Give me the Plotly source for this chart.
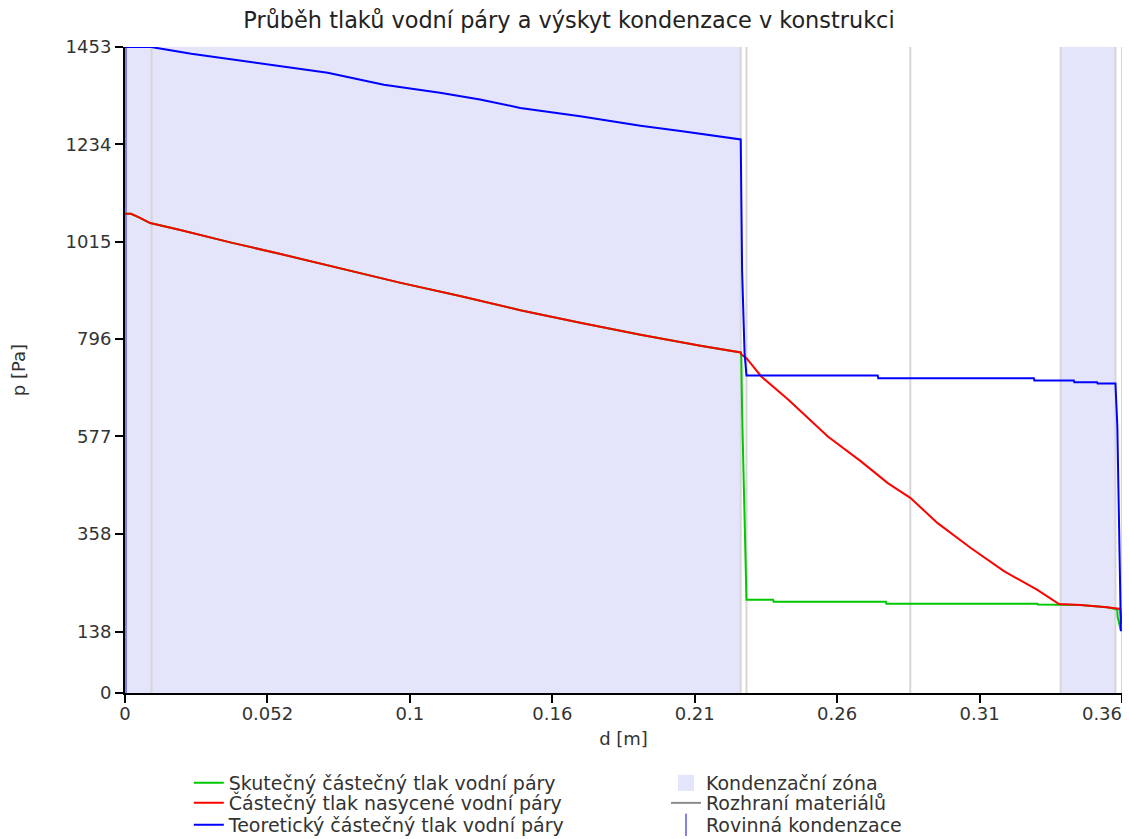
import plotly.graph_objects as go

# ---------------- data ----------------
TITLE = "Průběh tlaků vodní páry a výskyt kondenzace v konstrukci"
X_TITLE = "d [m]"
Y_TITLE = "p [Pa]"

X_TICK_VALS = [0, 0.052, 0.104, 0.156, 0.208, 0.26, 0.312, 0.364]
X_TICK_TEXT = ["0", "0.052", "0.1", "0.16", "0.21", "0.26", "0.31",
               "0.36\u00a0\u00a0\u00a0\u00a0\u00a0\u00a0\u00a0"]
Y_TICK_VALS = [0, 138, 358, 577, 796, 1015, 1234, 1453]
Y_TICK_TEXT = ["0", "138", "358", "577", "796", "1015", "1234", "1453"]

X_MAX = 0.364
P_MAX = 1453

# Skutečný částečný tlak vodní páry (green)
green_x = [0, 0.0022, 0.0051, 0.0092, 0.0198, 0.0388, 0.0564, 0.0783, 0.1003, 0.1223,
           0.1443, 0.1662, 0.1882, 0.2101, 0.2248, 0.2250, 0.2253, 0.2269, 0.2366, 0.2368,
           0.2778, 0.2780, 0.3331, 0.3333, 0.3410, 0.3488, 0.3585, 0.3616, 0.3623, 0.3624, 0.3635]
green_y = [1078, 1078, 1070, 1057, 1042, 1013, 988, 955, 923, 893,
           861, 833, 806, 781, 766, 761, 633, 210, 210, 205,
           205, 201, 201, 199, 199, 198, 193, 189, 186, 172, 142]

# Částečný tlak nasycené vodní páry (red)
red_x = [0, 0.0022, 0.0051, 0.0092, 0.0198, 0.0388, 0.0564, 0.0783, 0.1003, 0.1223,
         0.1443, 0.1662, 0.1882, 0.2101, 0.2248, 0.2251, 0.2269, 0.2323, 0.2421, 0.2566,
         0.2687, 0.2785, 0.2867, 0.2967, 0.3088, 0.3209, 0.3331, 0.3410, 0.3488, 0.3585,
         0.3616, 0.3634, 0.3638]
red_y = [1078, 1078, 1070, 1057, 1042, 1013, 988, 955, 923, 893,
         861, 833, 806, 781, 766, 761, 753, 712, 660, 577,
         521, 472, 439, 382, 326, 274, 232, 200, 198, 193,
         190, 189, 155]

# Teoretický částečný tlak vodní páry (blue)
blue_x = [0, 0.0095, 0.0242, 0.0418, 0.0564, 0.0740, 0.0945, 0.1150, 0.1296, 0.1443,
          0.1662, 0.1882, 0.2028, 0.2248, 0.2253, 0.2262, 0.2269, 0.2748, 0.2750, 0.3318,
          0.3320, 0.3464, 0.3466, 0.3549, 0.3551, 0.3616, 0.3623, 0.3630, 0.3636]
blue_y = [1453, 1453, 1438, 1423, 1411, 1395, 1368, 1350, 1335, 1316,
          1297, 1276, 1264, 1245, 950, 765, 714, 714, 708, 708,
          703, 703, 699, 699, 696, 696, 600, 300, 139]

# Kondenzační zóny (start, end) [m]
ZONES = [(0.0, 0.2248), (0.3416, 0.3616)]
# Rozhraní materiálů [m]
MATERIAL_BOUNDARIES = [0.0, 0.0097, 0.2248, 0.2269, 0.2867, 0.3416, 0.3616, 0.364]
# Rovinná kondenzace [m]
PLANE_CONDENSATION = [0.0]

# ---------------- styles ----------------
FONT = "DejaVu Sans"
C_GREEN = "#00c800"
C_RED = "#ff0000"
C_BLUE = "#0000ff"
C_ZONE = "#e4e4fa"
C_MAT = "#d6d6d6"
C_MAT_LEG = "#8c8c8c"
C_PLANE = "#8080f0"
TXT = "#333333"

fig = go.Figure()

# condensation zones
zx, zy = [], []
for a, b in ZONES:
    zx += [a, b, b, a, a, None]
    zy += [0, 0, P_MAX, P_MAX, 0, None]
fig.add_trace(go.Scatter(x=zx, y=zy, mode="lines", fill="toself", fillcolor=C_ZONE,
                         line=dict(width=0, color=C_ZONE), showlegend=False, hoverinfo="skip"))
fig.add_trace(go.Scatter(x=[None], y=[None], mode="markers",
                         marker=dict(symbol="square", size=17, color=C_ZONE),
                         name="Kondenzační zóna", legend="legend4"))

# material boundaries
mx, my = [], []
for b in MATERIAL_BOUNDARIES:
    mx += [b, b, None]
    my += [0, P_MAX, None]
fig.add_trace(go.Scatter(x=mx, y=my, mode="lines", line=dict(color=C_MAT, width=2),
                         showlegend=False, hoverinfo="skip"))
fig.add_trace(go.Scatter(x=[None], y=[None], mode="lines", line=dict(color=C_MAT_LEG, width=2),
                         name="Rozhraní materiálů", legend="legend5"))

# plane condensation
px_, py_ = [], []
for b in PLANE_CONDENSATION:
    px_ += [b, b, None]
    py_ += [0, P_MAX, None]
fig.add_trace(go.Scatter(x=px_, y=py_, mode="lines", line=dict(color=C_PLANE, width=4),
                         showlegend=False, hoverinfo="skip"))
fig.add_trace(go.Scatter(x=[None], y=[None], mode="markers",
                         marker=dict(symbol="line-ns", size=20, color=C_PLANE,
                                     line=dict(color=C_PLANE, width=2)),
                         name="Rovinná kondenzace", legend="legend6"))

# pressure curves
fig.add_trace(go.Scatter(x=green_x, y=green_y, mode="lines", line=dict(color=C_GREEN, width=2),
                         name="Skutečný částečný tlak vodní páry", legend="legend"))
fig.add_trace(go.Scatter(x=red_x, y=red_y, mode="lines", line=dict(color=C_RED, width=2),
                         name="Částečný tlak nasycené vodní páry", legend="legend2"))
fig.add_trace(go.Scatter(x=blue_x, y=blue_y, mode="lines", line=dict(color=C_BLUE, width=2),
                         name="Teoretický částečný tlak vodní páry", legend="legend3"))

axis_common = dict(showgrid=False, zeroline=False, showline=True, linecolor="black",
                   linewidth=2, ticks="outside", ticklen=8, tickwidth=2, tickcolor="black",
                   tickfont=dict(family=FONT, size=18, color=TXT))
inner_ticks = dict(showgrid=False, zeroline=False, showline=False, ticks="inside",
                   ticklen=6, tickwidth=2, tickcolor="black", showticklabels=False)


def leg(x, yc):
    return dict(x=x, y=yc, xanchor="left", yanchor="middle", orientation="v",
                font=dict(family=FONT, size=19, color=TXT), itemwidth=30,
                bgcolor="rgba(0,0,0,0)", borderwidth=0)


# row centres (paper coords, relative to the plot area)
ROW_Y = [-0.1393, -0.1703, -0.2043]
COL_X = [0.064, 0.5426]

# the page body adds an 8 px margin; the figure is placed so the plot area lands where the reference has it
fig.update_layout(
    width=1114, height=831,
    paper_bgcolor="white", plot_bgcolor="white",
    margin=dict(l=117, r=0, t=39, b=146, autoexpand=False),
    font=dict(family=FONT, color=TXT),
    title=dict(text=TITLE, x=0.5036, xanchor="center", y=1 - 12 / 831, yanchor="middle",
               yref="container", font=dict(family=FONT, size=22.4, color="#222222")),
    xaxis=dict(range=[0, X_MAX], tickvals=X_TICK_VALS, ticktext=X_TICK_TEXT,
               ticklabelstandoff=-5, ticklabeloverflow="allow",
               title=dict(text=X_TITLE, font=dict(family=FONT, size=18, color=TXT),
                          standoff=10),
               **axis_common),
    yaxis=dict(range=[0, P_MAX], tickvals=Y_TICK_VALS, ticktext=Y_TICK_TEXT,
               title=dict(text=Y_TITLE, font=dict(family=FONT, size=18, color=TXT),
                          standoff=36),
               **axis_common),
    xaxis2=dict(range=[0, X_MAX], tickvals=X_TICK_VALS, overlaying="x", anchor="y",
                side="bottom", **inner_ticks),
    yaxis2=dict(range=[0, P_MAX], tickvals=Y_TICK_VALS, overlaying="y", anchor="x",
                side="left", **inner_ticks),
    legend=leg(COL_X[0], ROW_Y[0]),
    legend2=leg(COL_X[0], ROW_Y[1]),
    legend3=leg(COL_X[0], ROW_Y[2]),
    legend4=leg(COL_X[1], ROW_Y[0]),
    legend5=leg(COL_X[1], ROW_Y[1]),
    legend6=leg(COL_X[1], ROW_Y[2]),
    showlegend=True,
)

fig.write_html("out.html")
